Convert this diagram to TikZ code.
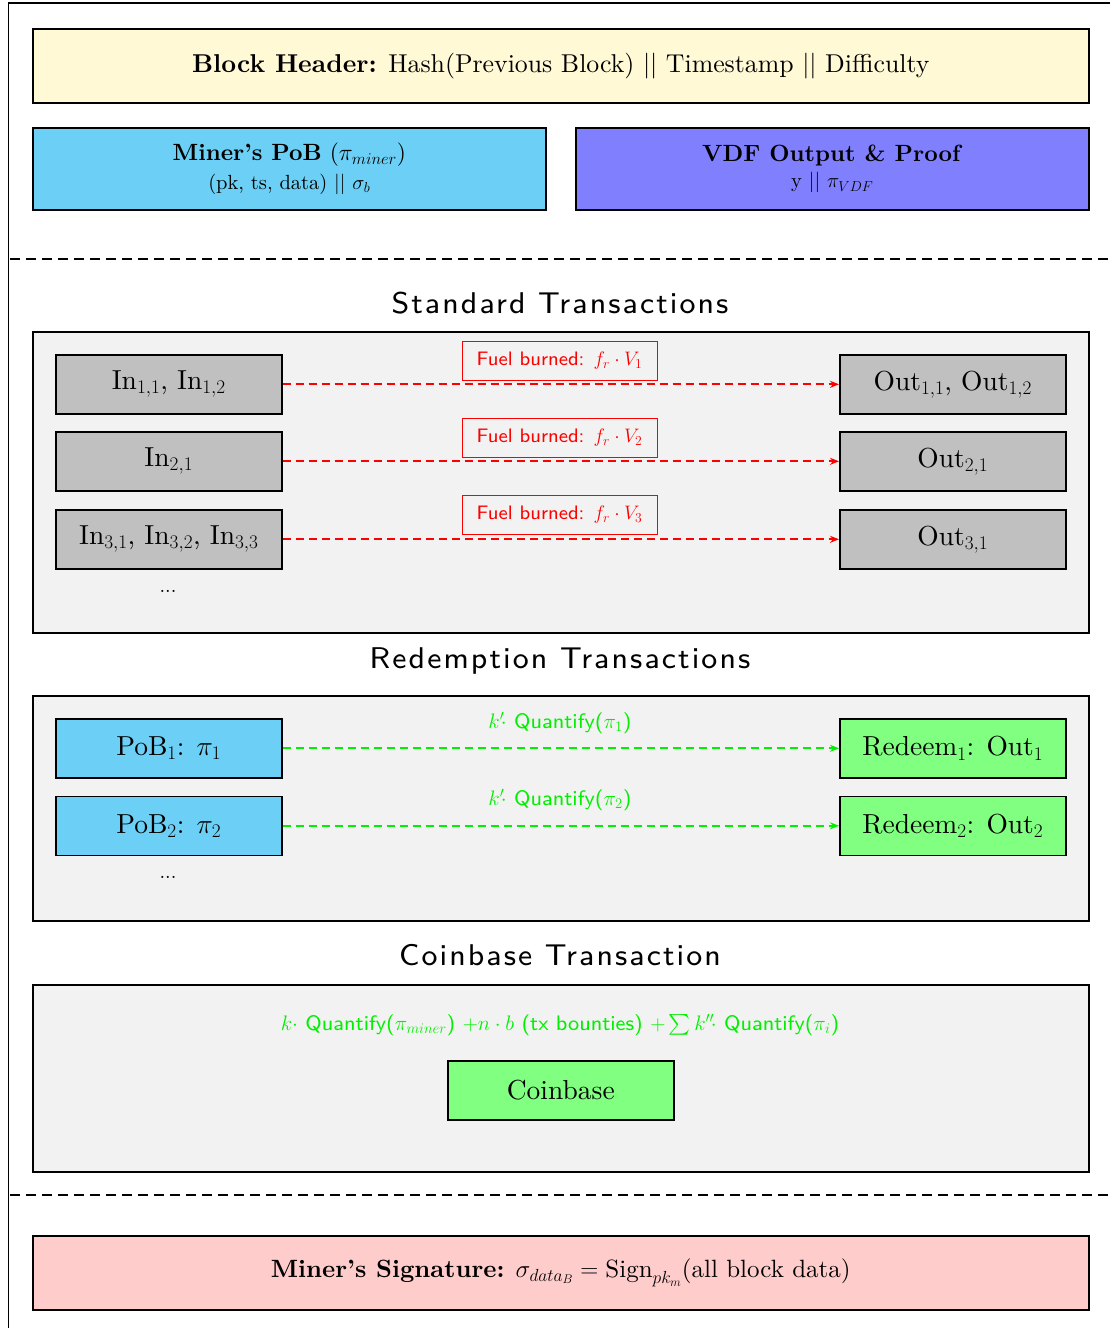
\RequirePackage{fix-cm}
\documentclass[tikz,border=0pt]{standalone}
\usepackage{amsmath}
\usepackage{fontspec}
% fixed design sizes, so that large text keeps the 10pt (serif) and 8pt (sans) shapes
\setmainfont{lmroman10}[Extension=.otf, UprightFont=*-regular, BoldFont=*-bold,
  ItalicFont=*-italic, BoldItalicFont=*-bolditalic]
\setsansfont{lmsans8}[Extension=.otf, UprightFont=*-regular, BoldFont=lmsans10-bold,
  ItalicFont=*-oblique]
\usetikzlibrary{arrows.meta}
\definecolor{hdrfill}{HTML}{FFF9D6}
\definecolor{pobfill}{HTML}{6BCFF6}
\definecolor{vdffill}{HTML}{8080FF}
\definecolor{panelfill}{HTML}{F2F2F2}
\definecolor{txfill}{HTML}{C0C0C0}
\definecolor{redeemfill}{HTML}{80FF80}
\definecolor{sigfill}{HTML}{FFCCCC}
\definecolor{fuelred}{HTML}{FF0000}
\definecolor{rewardgreen}{HTML}{00F000}
\tikzset{
  blockbox/.style={draw, line width=1.6pt, anchor=north west, inner sep=0pt, align=center},
  panelbox/.style={draw, line width=1.6pt, fill=panelfill, anchor=north west, inner sep=0pt},
  txbox/.style={draw, line width=1.6pt, anchor=north west, inner sep=0pt,
    minimum width=226pt, minimum height=59pt, font=\fontsize{27.5}{32}\selectfont},
  sectitle/.style={font=\sffamily\fontsize{30}{34}\selectfont\addfontfeatures{LetterSpace=7}},
  fuelarrow/.style={draw=fuelred, line width=2pt, dash pattern=on 8pt off 5pt, -{Stealth[length=9pt,width=7pt]}},
  rewardarrow/.style={draw=rewardgreen, line width=2pt, dash pattern=on 8pt off 5pt, -{Stealth[length=9pt,width=7pt]}},
  fuellabel/.style={draw=fuelred, line width=1pt, text=fuelred, inner sep=0pt,
    minimum width=195pt, minimum height=39pt, font=\sffamily\fontsize{19.5}{24}\selectfont},
  rewardlabel/.style={text=rewardgreen, inner sep=0pt, font=\sffamily\fontsize{21}{25}\selectfont},
  ellipsis/.style={font=\fontsize{20}{24}\selectfont},
  sepline/.style={line width=1.5pt, dash pattern=on 10pt off 6pt},
}
\begin{document}
\begin{tikzpicture}[x=1pt, y=-1pt]
\useasboundingbox (0,0) rectangle (1110,1328);

% outer frame (top and left edges)
\draw[line width=1.6pt] (1110,3) -- (8.5,3) -- (8.5,1328);

% header area
\node[blockbox, fill=hdrfill, minimum width=1056pt, minimum height=74pt,
  font=\fontsize{25.8}{30}\selectfont] (header) at (32,28)
  {\textbf{Block Header:} Hash(Previous Block) || Timestamp || Difficulty};
\node[blockbox, fill=pobfill, minimum width=513pt, minimum height=82pt] (minerpob) at (32,127)
  {{\fontsize{23.5}{28}\selectfont\textbf{Miner’s PoB} ($\pi_{miner}$)}\\[6pt]
   {\fontsize{20.5}{24}\selectfont (pk, ts, data) || $\sigma_b$}};
\node[blockbox, fill=vdffill, minimum width=513pt, minimum height=82pt] (vdf) at (575,127)
  {{\fontsize{23.5}{28}\selectfont\textbf{VDF Output \& Proof}}\\[6pt]
   {\fontsize{20.5}{24}\selectfont y || $\pi_{VDF}$}};

\draw[sepline] (10,259) -- (1110,259);

% standard transactions
\node[sectitle] (stdtitle) at (560,303) {Standard Transactions};
\node[panelbox, minimum width=1056pt, minimum height=301pt] (stdpanel) at (32,331) {};

\node[txbox, fill=txfill] (in1) at (55,354) {In$_{1,1}$, In$_{1,2}$};
\node[txbox, fill=txfill] (in2) at (55,431) {In$_{2,1}$};
\node[txbox, fill=txfill] (in3) at (55,509) {In$_{3,1}$, In$_{3,2}$, In$_{3,3}$};
\node[txbox, fill=txfill] (out1) at (839,354) {Out$_{1,1}$, Out$_{1,2}$};
\node[txbox, fill=txfill] (out2) at (839,431) {Out$_{2,1}$};
\node[txbox, fill=txfill] (out3) at (839,509) {Out$_{3,1}$};
\node[ellipsis] (stddots) at (168,591) {...};

\draw[fuelarrow] (in1.east) -- (out1.west);
\draw[fuelarrow] (in2.east) -- (out2.west);
\draw[fuelarrow] (in3.east) -- (out3.west);
\node[fuellabel] (fuel1) at (559.5,360.5) {Fuel burned: $f_r\cdot V_1$};
\node[fuellabel] (fuel2) at (559.5,437.5) {Fuel burned: $f_r\cdot V_2$};
\node[fuellabel] (fuel3) at (559.5,515) {Fuel burned: $f_r\cdot V_3$};

% redemption transactions
\node[sectitle] (redtitle) at (560,661) {Redemption Transactions};
\node[panelbox, minimum width=1056pt, minimum height=225pt] (redpanel) at (32,695) {};

\node[txbox, fill=pobfill] (pob1) at (55,718) {PoB$_1$: $\pi_1$};
\node[txbox, fill=pobfill] (pob2) at (55,795.5) {PoB$_2$: $\pi_2$};
\node[txbox, fill=redeemfill] (redeem1) at (839,718) {Redeem$_1$: Out$_1$};
\node[txbox, fill=redeemfill] (redeem2) at (839,795.5) {Redeem$_2$: Out$_2$};
\node[ellipsis] (reddots) at (168,877) {...};

\draw[rewardarrow] (pob1.east) -- (redeem1.west);
\draw[rewardarrow] (pob2.east) -- (redeem2.west);
\node[rewardlabel] (reward1) at (560,723) {$k'\!\cdot$ Quantify($\pi_1$)};
\node[rewardlabel] (reward2) at (560,800) {$k'\!\cdot$ Quantify($\pi_2$)};

% coinbase transaction
\node[sectitle] (cbtitle) at (560,955) {Coinbase Transaction};
\node[panelbox, minimum width=1056pt, minimum height=187pt] (cbpanel) at (32,984) {};
\node[rewardlabel] (cbreward) at (560,1025)
  {$k\cdot$ Quantify($\pi_{miner}$) $+n\cdot b$ (tx bounties) $+\sum k''\!\cdot$ Quantify($\pi_i$)};
\node[txbox, fill=redeemfill] (coinbase) at (447,1060) {Coinbase};

\draw[sepline] (10,1195) -- (1110,1195);

% miner signature
\node[blockbox, fill=sigfill, minimum width=1056pt, minimum height=74pt,
  font=\fontsize{25}{29}\selectfont] (signature) at (32,1235)
  {\textbf{Miner’s Signature:} $\sigma_{data_B}=\mathrm{Sign}_{pk_m}$(all block data)};
\end{tikzpicture}
\end{document}
